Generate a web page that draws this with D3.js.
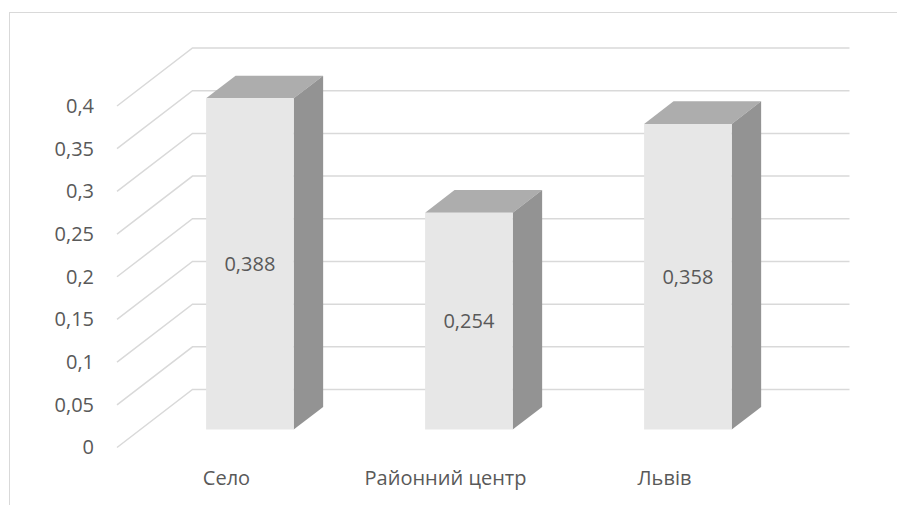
<!DOCTYPE html>
<html>
<head>
<meta charset="utf-8">
<script src="https://cdn.jsdelivr.net/npm/d3@7"></script>
<style>
  html, body { margin: 0; padding: 0; background: #ffffff; }
  svg { display: block; }
  text { font-family: "Open Sans", "Noto Sans", sans-serif; fill: #595959; }
</style>
</head>
<body>
<svg id="chart" width="897" height="505"></svg>
<script>
// Categories and values
const categories = ["Село", "Районний центр", "Львів"];
const values = [0.388, 0.254, 0.358];
const valueLabels = ["0,388", "0,254", "0,358"];

// Value axis ticks
const yTicks = [0, 0.05, 0.1, 0.15, 0.2, 0.25, 0.3, 0.35, 0.4];
const yTickLabels = ["0", "0,05", "0,1", "0,15", "0,2", "0,25", "0,3", "0,35", "0,4"];

const W = 897, H = 505;
const FONT = 20;
const svg = d3.select("#chart");

// Oblique 3D projection: depth z in [0,1] shifts points right and up
const DX = 75.5, DY = 58;
const plotLeft = 117, plotRight = 774;

const x = d3.scaleBand()
  .domain(categories)
  .range([plotLeft, plotRight])
  .paddingInner(0.6)
  .paddingOuter(0.3);

const y = d3.scaleLinear()
  .domain([0, 0.4])
  .range([447.5, 106]);

const proj = (px, v, z) => [px + z * DX, y(v) - z * DY];

// Chart frame
svg.append("rect")
  .attr("x", 9.5).attr("y", 12.5)
  .attr("width", W).attr("height", H)
  .attr("fill", "none")
  .attr("stroke", "#d9d9d9")
  .attr("stroke-width", 1);

// Gridlines: left wall diagonals and back wall horizontals
const grid = svg.append("g")
  .attr("fill", "none")
  .attr("stroke", "#d9d9d9")
  .attr("stroke-width", 1.5);

grid.selectAll("path")
  .data(yTicks)
  .join("path")
  .attr("d", v => {
    const a = proj(plotLeft, v, 0);
    const b = proj(plotLeft, v, 1);
    const c = proj(plotRight, v, 1);
    return d3.line()([a, b, c]);
  });

// Bars
const z0 = 0.31, z1 = 0.70;
const bars = svg.append("g").selectAll("g")
  .data(categories.map((c, i) => ({ c, v: values[i], label: valueLabels[i] })))
  .join("g");

// top face
bars.append("path")
  .attr("fill", "#adadad")
  .attr("d", d => {
    const xl = x(d.c), xr = x(d.c) + x.bandwidth();
    return d3.line()([proj(xl, d.v, z0), proj(xl, d.v, z1), proj(xr, d.v, z1), proj(xr, d.v, z0)]) + "Z";
  });

// side face
bars.append("path")
  .attr("fill", "#939393")
  .attr("d", d => {
    const xr = x(d.c) + x.bandwidth();
    return d3.line()([proj(xr, 0, z0), proj(xr, d.v, z0), proj(xr, d.v, z1), proj(xr, 0, z1)]) + "Z";
  });

// front face
bars.append("path")
  .attr("fill", "#e7e7e7")
  .attr("d", d => {
    const xl = x(d.c), xr = x(d.c) + x.bandwidth();
    return d3.line()([proj(xl, 0, z0), proj(xl, d.v, z0), proj(xr, d.v, z0), proj(xr, 0, z0)]) + "Z";
  });

// value labels centred on the front face
bars.append("text")
  .attr("text-anchor", "middle")
  .attr("dy", "0.35em")
  .attr("font-size", FONT)
  .attr("x", d => proj(x(d.c) + x.bandwidth() / 2, 0, z0)[0])
  .attr("y", d => (proj(0, 0, z0)[1] + proj(0, d.v, z0)[1]) / 2)
  .text(d => d.label);

// Value axis labels
const yAxis = d3.axisLeft(y)
  .tickValues(yTicks)
  .tickFormat((d, i) => yTickLabels[i])
  .tickSize(0)
  .tickPadding(23);

const yg = svg.append("g")
  .attr("transform", `translate(${plotLeft},0)`)
  .call(yAxis);
yg.select(".domain").remove();
yg.selectAll("text")
  .attr("font-family", null)
  .attr("font-size", FONT)
  .attr("fill", "#595959");

// Category labels along the front edge of the floor
svg.append("g").selectAll("text")
  .data(categories)
  .join("text")
  .attr("text-anchor", "middle")
  .attr("dy", "0.35em")
  .attr("font-size", FONT)
  .attr("x", c => x(c) + x.bandwidth() / 2)
  .attr("y", 478)
  .text(c => c);
</script>
</body>
</html>
